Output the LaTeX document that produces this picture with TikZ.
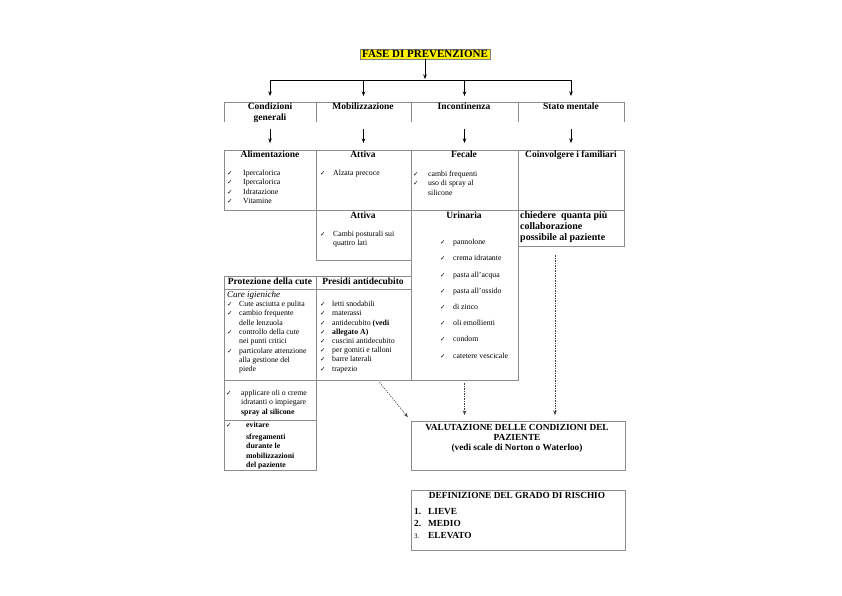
\documentclass[tikz,border=0pt]{standalone}
\usepackage{fontspec}
\setmainfont{Liberation Serif}
\newfontfamily\checkfont{DejaVu Sans}
\usetikzlibrary{positioning,arrows.meta}

\newcommand{\ck}[1][12pt]{\makebox[#1][l]{\checkfont\mdseries\fontsize{6.5}{6}\selectfont ✓}}
\newcommand{\ind}[1][12pt]{\hspace*{#1}}

\begin{document}
\begin{tikzpicture}[x=1pt,y=-1pt,
    grid/.style={draw=black!45, line width=0.5pt},
    cell/.style={grid, inner sep=0pt, outer sep=0pt, anchor=north west},
    hcell/.style={inner sep=0pt, outer sep=0pt, anchor=north west, minimum height=22pt},
    head/.style={font=\fontsize{9.5}{10.8}\selectfont\bfseries, align=center, inner sep=0pt, anchor=north},
    body/.style={font=\fontsize{7.8}{9.2}\selectfont, align=left, inner sep=0pt, anchor=north west},
    arr/.style={-{Stealth[length=4.5pt,width=3.5pt]}, line width=0.6pt},
    darr/.style={-{Stealth[length=4.5pt,width=3.5pt]}, line width=0.5pt, black!75, dash pattern=on 1.5pt off 1pt}]
    \useasboundingbox (0,0) rectangle (842,596);

    % Title
    \node[fill=yellow, draw=black!50, line width=0.4pt, inner xsep=2pt, inner ysep=1.5pt,
          font=\fontsize{11}{12}\selectfont\bfseries] (fase) at (425,54) {FASE DI PREVENZIONE};

    % Header row
    \node[hcell, minimum width=92pt] (hcond) at (224,102) {};
    \node[hcell, minimum width=95pt] (hmob) at (316,102) {};
    \node[hcell, minimum width=107pt] (hinc) at (411,102) {};
    \node[hcell, minimum width=106pt] (hstato) at (518,102) {};
    \draw[grid] (hcond.north west) -- (hstato.north east);
    \foreach \n in {hcond,hmob,hinc,hstato} {
        \draw[grid] (\n.north west) -- ([yshift=2pt]\n.south west);
    }
    \draw[grid] (hstato.north east) -- ([yshift=2pt]hstato.south east);
    \node[head] (tcond) at (270,102.5) {Condizioni\\generali};
    \node[head] (tmob) at (363,102.5) {Mobilizzazione};
    \node[head] (tinc) at (464,102.5) {Incontinenza};
    \node[head] (tstato) at (571,102.5) {Stato mentale};

    % Arrows from the title
    \coordinate (bm) at (fase.south |- 0,80);
    \draw[arr, shorten >=1pt] (fase.south) -- (bm);
    \draw[line width=0.6pt] (hcond.north |- bm) -- (hstato.north |- bm);
    \foreach \n in {hcond,hmob,hinc,hstato} {
        \draw[arr, shorten >=6pt] (\n.north |- bm) -- (\n.north);
    }

    % Second row
    \node[cell, minimum width=92pt, minimum height=60pt] (alim) at (224,150) {};
    \node[cell, minimum width=95pt, minimum height=60pt] (att1) at (316,150) {};
    \node[cell, minimum width=107pt, minimum height=60pt] (fec) at (411,150) {};
    \node[cell, minimum width=106pt, minimum height=60pt] (coinv) at (518,150) {};
    \draw[arr, shorten <=5pt, shorten >=7pt] (hcond.south) -- (alim.north);
    \draw[arr, shorten <=5pt, shorten >=7pt] (hmob.south) -- (att1.north);
    \draw[arr, shorten <=5pt, shorten >=7pt] (hinc.south) -- (fec.north);
    \draw[arr, shorten <=5pt, shorten >=7pt] (hstato.south) -- (coinv.north);

    \node[head] (talim) at (270,151) {Alimentazione};
    \node[body] (lalim) at (227,170) {\ck[16pt]Ipercalorica\\\ck[16pt]Ipercalorica\\\ck[16pt]Idratazione\\\ck[16pt]Vitamine};
    \node[head] (tatt1) at (363,151) {Attiva};
    \node[body] (latt1) at (320,170) {\ck[13pt]Alzata precoce};
    \node[head] (tfec) at (464,151) {Fecale};
    \node[body] (lfec) at (413,171) {\ck[15pt]cambi frequenti\\\ck[15pt]uso di spray al\\\ind[15pt]silicone};
    \node[head] (tcoinv) at (571,151) {Coinvolgere i familiari};

    % Third row
    \node[cell, minimum width=95pt, minimum height=50pt] (att2) at (316,210) {};
    \node[cell, minimum width=107pt, minimum height=170pt] (urin) at (411,210) {};
    \node[cell, minimum width=106pt, minimum height=36pt] (chied) at (518,210) {};
    \node[head] (tatt2) at (363,212) {Attiva};
    \node[body] (latt2) at (320,231) {\ck[13pt]Cambi posturali sui\\\ind[13pt]quattro lati};
    \node[head] (turin) at (464,212) {Urinaria};
    \node[body, font=\fontsize{7.8}{16.2}\selectfont] (lurin) at (440,239)
        {\ck[13pt]pannolone\\\ck[13pt]crema idratante\\\ck[13pt]pasta all'acqua\\\ck[13pt]pasta all'ossido\\
         \ck[13pt]di zinco\\\ck[13pt]oli emollienti\\\ck[13pt]condom\\\ck[13pt]catetere vescicale};
    \node[body, font=\fontsize{10}{11}\selectfont\bfseries] (lchied) at (520,211)
        {chiedere \ quanta più\\collaborazione\\possibile al paziente};

    % Skin protection and devices
    \node[cell, minimum width=92pt, minimum height=104pt] (prot) at (224,276) {};
    \node[cell, minimum width=95pt, minimum height=104pt] (pres) at (316,276) {};
    \draw[grid] ([yshift=-13pt]prot.north west) -- ([yshift=-13pt]pres.north east);
    \node[head] (tprot) at (270,277.5) {Protezione della cute};
    \node[head] (tpres) at (363,277.5) {Presidi antidecubito};
    \node[body, font=\fontsize{9}{10}\selectfont\itshape] (icure) at (227,291) {Cure igieniche};
    \node[body, font=\fontsize{7.8}{9.3}\selectfont] (lprot) at (227,301)
        {\ck Cute asciutta e pulita\\\ck cambio frequente\\\ind delle lenzuola\\\ck controllo della cute\\
         \ind nei punti critici\\\ck particolare attenzione\\\ind alla gestione del\\\ind piede};
    \node[body, font=\fontsize{7.8}{9.2}\selectfont] (lpres) at (320,301)
        {\ck letti snodabili\\\ck materassi\\\ck antidecubito \textbf{(vedi}\\\ck\textbf{allegato A)}\\
         \ck cuscini antidecubito\\\ck per gomiti e talloni\\\ck barre laterali\\\ck trapezio};

    \node[cell, minimum width=92pt, minimum height=40pt] (appl) at (224,380) {};
    \node[cell, minimum width=92pt, minimum height=50pt] (evit) at (224,420) {};
    \node[body] (lappl) at (226,390)
        {\ck[15pt]applicare oli o creme\\\ind[15pt]idratanti o impiegare\\\ind[15pt]\textbf{spray al silicone}};
    \node[body, font=\fontsize{7.8}{9.5}\selectfont\bfseries] (levit) at (226,422)
        {\ck[20pt]evitare\\[2pt]\ind[20pt]sfregamenti\\\ind[20pt]durante le\\\ind[20pt]mobilizzazioni\\\ind[20pt]del paziente};

    % Assessment
    \node[cell, minimum width=214pt, minimum height=49pt] (valut) at (411,421) {};
    \node[head, font=\fontsize{9.3}{10}\selectfont\bfseries] (tvalut) at (517,424)
        {VALUTAZIONE DELLE CONDIZIONI DEL\\PAZIENTE\\(vedi scale di Norton o Waterloo)};
    \draw[darr, shorten <=3pt, shorten >=5pt] ([xshift=14pt]pres.south) -- (valut.north west);
    \draw[darr, shorten <=3pt, shorten >=6pt] (urin.south) -- (urin.south |- valut.north);
    \coordinate (cc) at ([xshift=-16pt]chied.south);
    \draw[darr, shorten <=9pt, shorten >=6pt] (cc) -- (cc |- valut.north);

    % Risk level
    \node[cell, minimum width=214pt, minimum height=60pt] (defin) at (411,490) {};
    \node[head, font=\fontsize{9.3}{10}\selectfont\bfseries] (tdefin) at (517,492) {DEFINIZIONE DEL GRADO DI RISCHIO};
    \node[body, font=\fontsize{9.3}{12}\selectfont\bfseries] (ldefin) at (414,508)
        {\makebox[14pt][l]{1.}LIEVE\\\makebox[14pt][l]{2.}MEDIO\\\makebox[14pt][l]{\mdseries\fontsize{7}{12}\selectfont 3.}ELEVATO};
\end{tikzpicture}
\end{document}
